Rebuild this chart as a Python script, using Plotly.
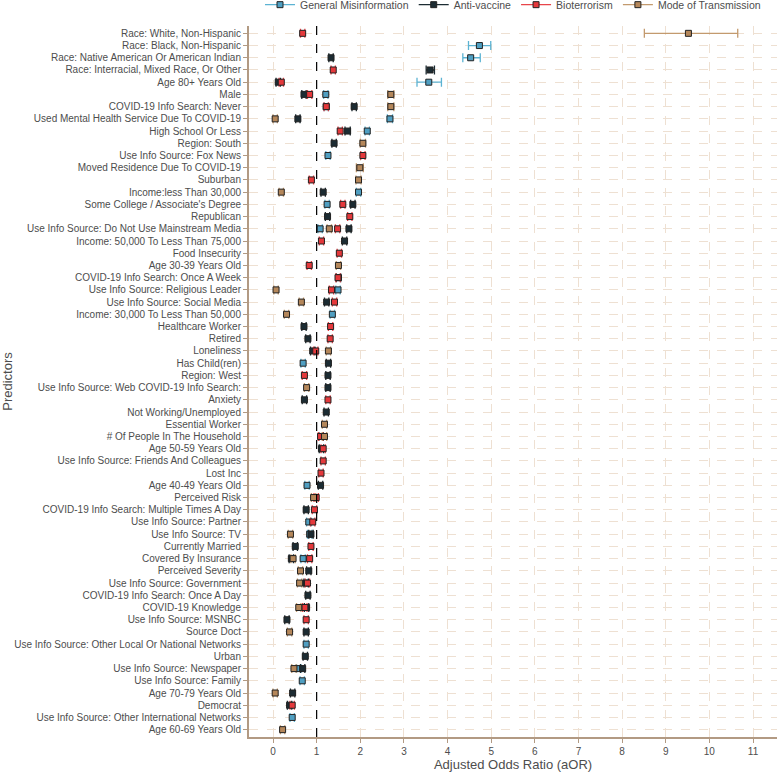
import plotly.graph_objects as go

categories = [
    "Race: White, Non-Hispanic",
    "Race: Black, Non-Hispanic",
    "Race: Native American Or American Indian",
    "Race: Interracial, Mixed Race, Or Other",
    "Age 80+ Years Old",
    "Male",
    "COVID-19 Info Search: Never",
    "Used Mental Health Service Due To COVID-19",
    "High School Or Less",
    "Region: South",
    "Use Info Source: Fox News",
    "Moved Residence Due To COVID-19",
    "Suburban",
    "Income:less Than 30,000",
    "Some College / Associate's Degree",
    "Republican",
    "Use Info Source: Do Not Use Mainstream Media",
    "Income: 50,000 To Less Than 75,000",
    "Food Insecurity",
    "Age 30-39 Years Old",
    "COVID-19 Info Search: Once A Week",
    "Use Info Source: Religious Leader",
    "Use Info Source: Social Media",
    "Income: 30,000 To Less Than 50,000",
    "Healthcare Worker",
    "Retired",
    "Loneliness",
    "Has Child(ren)",
    "Region: West",
    "Use Info Source: Web COVID-19 Info Search:",
    "Anxiety",
    "Not Working/Unemployed",
    "Essential Worker",
    "# Of People In The Household",
    "Age 50-59 Years Old",
    "Use Info Source: Friends And Colleagues",
    "Lost Inc",
    "Age 40-49 Years Old",
    "Perceived Risk",
    "COVID-19 Info Search: Multiple Times A Day",
    "Use Info Source: Partner",
    "Use Info Source: TV",
    "Currently Married",
    "Covered By Insurance",
    "Perceived Severity",
    "Use Info Source: Government",
    "COVID-19 Info Search: Once A Day",
    "COVID-19 Knowledge",
    "Use Info Source: MSNBC",
    "Source Doct",
    "Use Info Source: Other Local Or National Networks",
    "Urban",
    "Use Info Source: Newspaper",
    "Use Info Source: Family",
    "Age 70-79 Years Old",
    "Democrat",
    "Use Info Source: Other International Networks",
    "Age 60-69 Years Old",
]

x_ticks = list(range(0, 12))

# General Misinformation
gm_cat = ["Race: Black, Non-Hispanic", "Race: Native American Or American Indian", "Age 80+ Years Old",
          "Male", "COVID-19 Info Search: Never", "Used Mental Health Service Due To COVID-19",
          "High School Or Less", "Use Info Source: Fox News", "Income:less Than 30,000",
          "Some College / Associate's Degree", "Use Info Source: Do Not Use Mainstream Media",
          "Use Info Source: Religious Leader", "Income: 30,000 To Less Than 50,000", "Has Child(ren)",
          "Age 40-49 Years Old", "Use Info Source: Partner", "Use Info Source: TV", "Covered By Insurance",
          "Use Info Source: Other Local Or National Networks", "Use Info Source: Newspaper",
          "Use Info Source: Family", "Use Info Source: Other International Networks"]
gm_est = [4.73, 4.53, 3.57, 1.21, 1.22, 2.68, 2.16, 1.26, 1.96, 1.24, 1.08, 1.49, 1.36, 0.69,
          0.78, 0.82, 0.84, 0.69, 0.76, 0.59, 0.67, 0.44]
gm_lo = [4.48, 4.35, 3.30, 1.16, 1.17, 2.62, 2.11, 1.21, 1.91, 1.19, 1.03, 1.44, 1.31, 0.64,
         0.73, 0.77, 0.79, 0.64, 0.71, 0.54, 0.62, 0.39]
gm_hi = [4.99, 4.75, 3.86, 1.26, 1.27, 2.74, 2.21, 1.31, 2.01, 1.29, 1.13, 1.54, 1.41, 0.74,
         0.83, 0.87, 0.89, 0.74, 0.81, 0.64, 0.72, 0.49]

# Anti-vaccine
av_cat = ["Race: Native American Or American Indian", "Race: Interracial, Mixed Race, Or Other",
          "Age 80+ Years Old", "Male", "COVID-19 Info Search: Never",
          "Used Mental Health Service Due To COVID-19", "High School Or Less", "Region: South",
          "Income:less Than 30,000", "Some College / Associate's Degree", "Republican",
          "Use Info Source: Do Not Use Mainstream Media", "Income: 50,000 To Less Than 75,000",
          "COVID-19 Info Search: Once A Week", "Use Info Source: Social Media", "Healthcare Worker",
          "Retired", "Loneliness", "Has Child(ren)", "Region: West",
          "Use Info Source: Web COVID-19 Info Search:", "Anxiety", "Not Working/Unemployed",
          "# Of People In The Household", "Age 50-59 Years Old", "Age 40-49 Years Old",
          "COVID-19 Info Search: Multiple Times A Day", "Use Info Source: TV", "Currently Married",
          "Covered By Insurance", "Perceived Severity", "Use Info Source: Government",
          "COVID-19 Info Search: Once A Day", "COVID-19 Knowledge", "Use Info Source: MSNBC",
          "Source Doct", "Urban", "Use Info Source: Newspaper", "Age 70-79 Years Old", "Democrat"]
av_est = [1.33, 3.60, 0.12, 0.71, 1.86, 0.57, 1.71, 1.40, 1.15, 1.83, 1.25, 1.74, 1.64, 1.50,
          1.23, 0.71, 0.80, 0.91, 1.27, 1.26, 1.26, 0.72, 1.22, 1.10, 1.11, 1.09, 0.76, 0.87,
          0.51, 0.42, 0.82, 0.76, 0.80, 0.77, 0.32, 0.76, 0.74, 0.68, 0.45, 0.38]
av_lo = [1.28, 3.51, 0.07, 0.66, 1.81, 0.52, 1.65, 1.35, 1.10, 1.78, 1.20, 1.69, 1.59, 1.45,
         1.18, 0.66, 0.75, 0.86, 1.22, 1.21, 1.21, 0.67, 1.17, 1.05, 1.06, 1.04, 0.71, 0.82,
         0.46, 0.37, 0.77, 0.71, 0.75, 0.72, 0.27, 0.71, 0.69, 0.63, 0.40, 0.33]
av_hi = [1.38, 3.70, 0.17, 0.76, 1.91, 0.62, 1.77, 1.45, 1.20, 1.88, 1.30, 1.79, 1.69, 1.55,
         1.28, 0.76, 0.85, 0.96, 1.32, 1.31, 1.31, 0.77, 1.27, 1.15, 1.16, 1.14, 0.81, 0.92,
         0.56, 0.47, 0.87, 0.81, 0.85, 0.82, 0.37, 0.81, 0.79, 0.73, 0.50, 0.43]

# Bioterrorism
bt_cat = ["Race: White, Non-Hispanic", "Race: Interracial, Mixed Race, Or Other", "Age 80+ Years Old",
          "Male", "COVID-19 Info Search: Never", "High School Or Less", "Use Info Source: Fox News",
          "Suburban", "Some College / Associate's Degree", "Republican",
          "Use Info Source: Do Not Use Mainstream Media", "Income: 50,000 To Less Than 75,000",
          "Food Insecurity", "Age 30-39 Years Old", "COVID-19 Info Search: Once A Week",
          "Use Info Source: Religious Leader", "Use Info Source: Social Media", "Healthcare Worker",
          "Retired", "Loneliness", "Region: West", "Anxiety", "# Of People In The Household",
          "Age 50-59 Years Old", "Use Info Source: Friends And Colleagues", "Lost Inc",
          "Perceived Risk", "COVID-19 Info Search: Multiple Times A Day", "Use Info Source: Partner",
          "Currently Married", "Covered By Insurance", "Use Info Source: Government",
          "COVID-19 Knowledge", "Use Info Source: MSNBC", "Democrat"]
bt_est = [0.68, 1.38, 0.19, 0.84, 1.22, 1.54, 2.06, 0.88, 1.60, 1.76, 1.48, 1.11, 1.52, 0.83,
          1.49, 1.34, 1.41, 1.32, 1.31, 0.98, 0.72, 1.26, 1.09, 1.15, 1.15, 1.10, 0.99, 0.95,
          0.91, 0.87, 0.84, 0.79, 0.73, 0.76, 0.44]
bt_lo = [0.63, 1.33, 0.14, 0.79, 1.17, 1.49, 2.01, 0.83, 1.55, 1.71, 1.43, 1.06, 1.47, 0.78,
         1.44, 1.29, 1.36, 1.27, 1.26, 0.93, 0.67, 1.21, 1.04, 1.10, 1.10, 1.05, 0.94, 0.90,
         0.86, 0.82, 0.79, 0.74, 0.68, 0.71, 0.39]
bt_hi = [0.73, 1.43, 0.24, 0.89, 1.27, 1.59, 2.11, 0.93, 1.65, 1.81, 1.53, 1.16, 1.57, 0.88,
         1.54, 1.39, 1.46, 1.37, 1.36, 1.03, 0.77, 1.31, 1.14, 1.20, 1.20, 1.15, 1.04, 1.00,
         0.96, 0.92, 0.89, 0.84, 0.78, 0.81, 0.49]

# Mode of Transmission
mt_cat = ["Race: White, Non-Hispanic", "Male", "COVID-19 Info Search: Never",
          "Used Mental Health Service Due To COVID-19", "Region: South", "Moved Residence Due To COVID-19",
          "Suburban", "Income:less Than 30,000", "Use Info Source: Do Not Use Mainstream Media",
          "Age 30-39 Years Old", "Use Info Source: Religious Leader", "Use Info Source: Social Media",
          "Income: 30,000 To Less Than 50,000", "Loneliness", "Use Info Source: Web COVID-19 Info Search:",
          "Essential Worker", "# Of People In The Household", "Perceived Risk", "Use Info Source: TV",
          "Covered By Insurance", "Perceived Severity", "Use Info Source: Government",
          "COVID-19 Knowledge", "Source Doct", "Use Info Source: Newspaper", "Age 70-79 Years Old",
          "Age 60-69 Years Old"]
mt_est = [9.52, 2.70, 2.70, 0.05, 2.06, 1.99, 1.96, 0.19, 1.29, 1.50, 0.07, 0.65, 0.31, 1.27,
          0.77, 1.18, 1.18, 0.93, 0.40, 0.46, 0.63, 0.61, 0.59, 0.38, 0.48, 0.05, 0.22]
mt_lo = [8.51, 2.63, 2.63, 0.00, 2.00, 1.91, 1.90, 0.14, 1.24, 1.45, 0.02, 0.60, 0.26, 1.22,
         0.72, 1.13, 1.13, 0.88, 0.35, 0.41, 0.58, 0.56, 0.54, 0.33, 0.43, 0.00, 0.17]
mt_hi = [10.65, 2.77, 2.77, 0.10, 2.12, 2.07, 2.02, 0.24, 1.34, 1.55, 0.12, 0.70, 0.36, 1.32,
         0.82, 1.23, 1.23, 0.98, 0.45, 0.51, 0.68, 0.66, 0.64, 0.43, 0.53, 0.10, 0.27]

series = [
    ("General Misinformation", gm_cat, gm_est, gm_lo, gm_hi, "#4f9fc2", "#5cb3d3"),
    ("Anti-vaccine", av_cat, av_est, av_lo, av_hi, "#1c2c33", "#1c2c33"),
    ("Bioterrorism", bt_cat, bt_est, bt_lo, bt_hi, "#e5383b", "#e8454a"),
    ("Mode of Transmission", mt_cat, mt_est, mt_lo, mt_hi, "#b5875a", "#c39a6e"),
]

FONT = "Liberation Sans, Arial, sans-serif"
TXT = "#4d4d4d"
AXC = "#b29a83"
GRID = "#eee0d2"

fig = go.Figure()

for name, cat, est, lo, hi, fill, err in series:
    fig.add_trace(go.Scatter(
        x=est, y=cat, mode="markers", name=name, showlegend=False,
        marker=dict(symbol="square", size=6, color=fill, line=dict(color="#222222", width=1)),
        error_x=dict(type="data", symmetric=False,
                     array=[h - e for h, e in zip(hi, est)],
                     arrayminus=[e - l for e, l in zip(est, lo)],
                     color=err, thickness=1.3, width=4.5),
    ))

for name, cat, est, lo, hi, fill, err in series:
    fig.add_trace(go.Scatter(
        x=[None], y=[None], mode="lines+markers", name=name, showlegend=True,
        marker=dict(symbol="square", size=6, color=fill, line=dict(color="#222222", width=1)),
        line=dict(color=err, width=1.3),
    ))

fig.add_shape(type="line", xref="x", yref="paper", x0=1, x1=1, y0=0, y1=1,
              line=dict(color="black", width=1.2, dash="dash"))

fig.update_layout(
    width=777, height=772,
    margin=dict(l=249, r=0, t=26, b=35, autoexpand=False),
    paper_bgcolor="white", plot_bgcolor="white",
    font=dict(family=FONT, color=TXT),
    legend=dict(orientation="h", x=0.5, xanchor="center", y=1.03, yanchor="middle",
                font=dict(size=10.5, color=TXT), itemwidth=30, bgcolor="rgba(0,0,0,0)"),
    xaxis=dict(range=[-0.55, 11.55], tickmode="array", tickvals=x_ticks,
               ticktext=[str(v) for v in x_ticks], automargin=False,
               showgrid=True, gridcolor=GRID, griddash="dash", gridwidth=1,
               zeroline=False, showline=True, linecolor=AXC, linewidth=2,
               ticks="outside", ticklen=4, tickcolor=AXC, tickwidth=1,
               tickfont=dict(size=10, color=TXT),
               title=dict(text="Adjusted Odds Ratio (aOR)", font=dict(size=13, color=TXT), standoff=3)),
    yaxis=dict(type="category", categoryorder="array", categoryarray=categories,
               tickmode="array", tickvals=categories, ticktext=categories, automargin=False,
               range=[len(categories) - 0.4, -0.6],
               showgrid=True, gridcolor=GRID, griddash="dash", gridwidth=1,
               zeroline=False, showline=True, linecolor=AXC, linewidth=2,
               ticks="outside", ticklen=4, tickcolor=AXC, tickwidth=1,
               tickfont=dict(size=10, color=TXT),
               title=dict(text="Predictors", font=dict(size=13, color=TXT), standoff=2)),
)

fig.write_html("out.html", config={"displayModeBar": False},
               post_script="document.body.style.margin='0';")
